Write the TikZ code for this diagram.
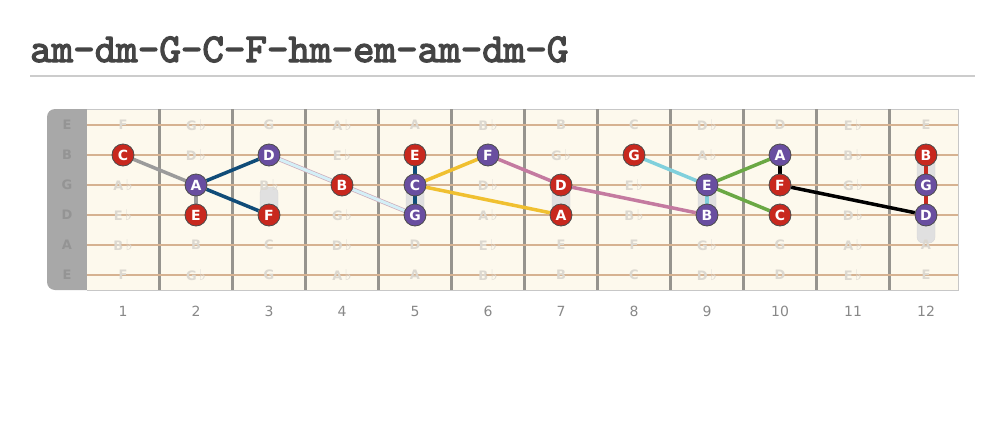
\documentclass[tikz,border=0pt]{standalone}
\usepackage{fontspec}
\setmainfont{DejaVu Sans}
\newfontfamily\titlefont[FakeBold=3]{lmmono10-regular.otf}
\usetikzlibrary{arrows,positioning}

\definecolor{notered}{RGB}{200,40,30}
\definecolor{notepurple}{RGB}{105,78,160}
\definecolor{boardcream}{RGB}{253,249,237}
\definecolor{stringtan}{RGB}{214,178,145}
\definecolor{fretgrey}{RGB}{150,148,142}
\definecolor{nutgrey}{RGB}{168,168,168}
\definecolor{cellgrey}{RGB}{220,216,208}
\definecolor{fretnum}{RGB}{136,136,136}
\definecolor{titlegrey}{RGB}{68,68,68}
\definecolor{amgrey}{RGB}{155,155,155}
\definecolor{dmblue}{RGB}{16,76,120}
\definecolor{gpale}{RGB}{212,239,247}
\definecolor{gedge}{RGB}{205,172,186}
\definecolor{fyellow}{RGB}{240,192,48}
\definecolor{hmmauve}{RGB}{196,122,160}
\definecolor{emcyan}{RGB}{128,208,220}
\definecolor{amgreen}{RGB}{106,168,68}

\pgfdeclarelayer{board}
\pgfdeclarelayer{lines}
\pgfsetlayers{board,lines,main}

\newcommand\flt{\,{\mdseries\fontsize{15}{15}\selectfont ♭}}
\newcommand\notename[1]{\ifcase#1 C\or D\flt\or D\or E\flt\or E\or F\or G\flt\or G\or A\flt\or A\or B\flt\or B\fi}

\begin{document}
\begin{tikzpicture}[x=1pt,y=-1pt,
    note/.style={circle,draw=black!70,line width=0.8pt,minimum size=22pt,inner sep=0pt,
                 text=white,font=\bfseries\fontsize{14}{14}\selectfont},
    red note/.style={note,fill=notered},
    purple note/.style={note,fill=notepurple},
    cell label/.style={text=cellgrey,font=\bfseries\fontsize{13}{13}\selectfont},
    nut label/.style={text=black!42,font=\bfseries\fontsize{13}{13}\selectfont},
    fret label/.style={text=fretnum,font=\fontsize{14}{14}\selectfont},
    inlay/.style={fill=black!12,draw=black!16,rounded corners=6pt},
    chord/.style={line width=3.5pt},
    pale chord/.style={draw=gedge,line width=0.7pt,double=gpale,double distance=3pt}]

  \useasboundingbox (0,0) rectangle (1005,434);

  \node[anchor=base west,inner sep=0pt,text=titlegrey,
        font=\titlefont\fontsize{41}{41}\selectfont] (title) at (30,62) {am-dm-G-C-F-hm-em-am-dm-G};
  \draw[black!20,line width=2pt] (30,75.5) -- (975,75.5);

  \begin{pgfonlayer}{board}
    % neck
    \fill[nutgrey,rounded corners=8pt] (47,109) rectangle (100,290);
    \fill[boardcream] (87,109) rectangle (958,290);
    \draw[black!22,line width=1pt] (87,109) -- (958,109) -- (958,290) -- (87,290);
    % inlays
    \foreach \f in {3,5,7,9}
      \path[inlay] (50+73*\f-9,187) rectangle (50+73*\f+9,213);
    \path[inlay] (917,157) rectangle (935,183);
    \path[inlay] (917,217) rectangle (935,243);
    % frets
    \foreach \f in {1,...,11}
      \draw[fretgrey,line width=3pt] (86.5+73*\f,109) -- (86.5+73*\f,290);
    % strings and note names
    \foreach \s/\open/\y in {E/4/125,B/11/155,G/7/185,D/2/215,A/9/245,E/4/275} {
      \draw[stringtan,line width=2pt] (87,\y) -- (958,\y);
      \node[nut label] at (67,\y) {\s};
      \foreach \f in {1,...,12} {
        \pgfmathtruncatemacro\idx{mod(\open+\f,12)}
        \node[cell label] at (50+73*\f,\y) {\notename{\idx}};
      }
    }
    \foreach \f in {1,...,12}
      \node[fret label] at (50+73*\f,311) {\f};
  \end{pgfonlayer}

  \node[red note]    (C1)  at (123,155) {C};
  \node[purple note] (A2)  at (196,185) {A};
  \node[red note]    (E2)  at (196,215) {E};
  \node[purple note] (D3)  at (269,155) {D};
  \node[red note]    (F3)  at (269,215) {F};
  \node[red note]    (B4)  at (342,185) {B};
  \node[red note]    (E5)  at (415,155) {E};
  \node[purple note] (C5)  at (415,185) {C};
  \node[purple note] (G5)  at (415,215) {G};
  \node[purple note] (F6)  at (488,155) {F};
  \node[red note]    (D7)  at (561,185) {D};
  \node[red note]    (A7)  at (561,215) {A};
  \node[red note]    (G8)  at (634,155) {G};
  \node[purple note] (E9)  at (707,185) {E};
  \node[purple note] (B9)  at (707,215) {B};
  \node[purple note] (A10) at (780,155) {A};
  \node[red note]    (F10) at (780,185) {F};
  \node[red note]    (C10) at (780,215) {C};
  \node[red note]    (B12) at (926,155) {B};
  \node[purple note] (G12) at (926,185) {G};
  \node[purple note] (D12) at (926,215) {D};

  \begin{pgfonlayer}{lines}
    \path[chord]
      (C1) edge[amgrey] (A2)
      (A2) edge[amgrey] (E2)
      (A2) edge[dmblue] (D3)
      (A2) edge[dmblue] (F3)
      (E5) edge[dmblue] (C5)
      (C5) edge[dmblue] (G5)
      (C5) edge[fyellow] (F6)
      (C5) edge[fyellow] (A7)
      (F6) edge[hmmauve] (D7)
      (D7) edge[hmmauve] (B9)
      (G8) edge[emcyan] (E9)
      (E9) edge[emcyan] (B9)
      (E9) edge[amgreen] (A10)
      (E9) edge[amgreen] (C10)
      (A10) edge[black] (F10)
      (F10) edge[black] (D12)
      (B12) edge[notered] (G12)
      (G12) edge[notered] (D12);
    \draw[pale chord] (D3.center) -- (B4.center);
    \draw[pale chord] (B4.center) -- (G5.center);
  \end{pgfonlayer}
\end{tikzpicture}
\end{document}
